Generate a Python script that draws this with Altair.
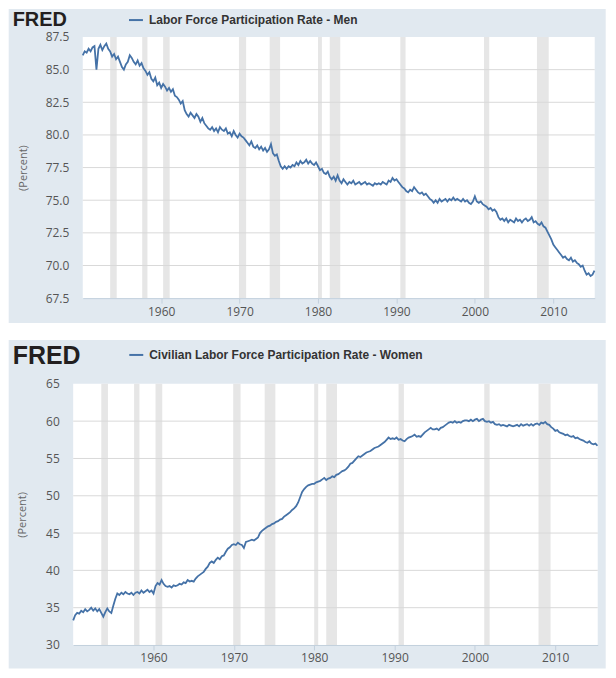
import altair as alt
import pandas as pd

# ---------------- data (quarterly from 1950 Q1) ----------------
MEN = [
    86.1, 86.4, 86.3, 86.6,  # 1950
    86.4, 86.7, 86.8, 85.0,  # 1951
    86.6, 86.9, 86.5, 86.8,  # 1952
    87.0, 86.6, 86.4, 86.0,  # 1953
    86.2, 85.8, 86.0, 85.6,  # 1954
    85.2, 85.0, 85.4, 85.6,  # 1955
    86.1, 85.9, 85.6, 85.4,  # 1956
    85.7, 85.3, 85.5, 85.1,  # 1957
    84.9, 84.6, 84.8, 84.3,  # 1958
    84.1, 84.4, 83.8, 84.0,  # 1959
    83.6, 83.9, 83.7, 83.4,  # 1960
    83.6, 83.3, 83.5, 83.0,  # 1961
    82.9, 82.7, 82.4, 82.6,  # 1962
    81.9, 81.6, 81.4, 81.7,  # 1963
    81.5, 81.3, 81.6, 81.4,  # 1964
    81.0, 81.3, 80.9, 80.7,  # 1965
    80.5, 80.4, 80.6, 80.3,  # 1966
    80.5, 80.2, 80.6, 80.4,  # 1967
    80.3, 80.5, 80.1, 80.2,  # 1968
    79.9, 80.3, 80.0, 79.8,  # 1969
    80.1, 79.9, 79.8, 79.6,  # 1970
    79.4, 79.2, 79.5, 79.1,  # 1971
    79.0, 79.2, 78.9, 79.1,  # 1972
    78.8, 79.0, 78.7, 78.9,  # 1973
    79.3, 78.6, 78.4, 78.5,  # 1974
    78.0, 77.6, 77.4, 77.6,  # 1975
    77.4, 77.6, 77.5, 77.7,  # 1976
    77.6, 77.9, 77.7, 78.0,  # 1977
    77.8, 77.9, 78.1, 77.8,  # 1978
    78.0, 77.8, 77.7, 77.9,  # 1979
    77.6, 77.3, 77.4, 77.1,  # 1980
    77.0, 77.2, 76.8, 76.6,  # 1981
    76.8, 76.5, 76.9, 76.5,  # 1982
    76.3, 76.6, 76.4, 76.2,  # 1983
    76.4, 76.3, 76.5, 76.2,  # 1984
    76.3, 76.4, 76.2, 76.3,  # 1985
    76.4, 76.2, 76.3, 76.2,  # 1986
    76.1, 76.3, 76.2, 76.3,  # 1987
    76.2, 76.4, 76.3, 76.2,  # 1988
    76.5, 76.4, 76.7, 76.5,  # 1989
    76.6, 76.4, 76.2, 76.0,  # 1990
    75.9, 75.7, 75.6, 75.8,  # 1991
    75.7, 76.0, 75.8, 75.6,  # 1992
    75.5, 75.6, 75.4, 75.5,  # 1993
    75.3, 75.1, 75.0, 74.8,  # 1994
    75.0, 74.8, 75.1, 74.9,  # 1995
    75.0, 75.1, 74.9, 75.1,  # 1996
    75.0, 75.2, 75.0, 75.1,  # 1997
    75.0, 74.9, 75.1, 74.9,  # 1998
    75.0, 74.8, 74.7, 74.9,  # 1999
    75.3, 74.9, 74.8, 74.9,  # 2000
    74.7, 74.6, 74.5, 74.3,  # 2001
    74.4, 74.2, 74.3, 74.1,  # 2002
    73.7, 73.5, 73.6, 73.4,  # 2003
    73.6, 73.3, 73.5, 73.4,  # 2004
    73.3, 73.6, 73.4, 73.5,  # 2005
    73.3, 73.5, 73.6, 73.4,  # 2006
    73.5, 73.7, 73.3, 73.4,  # 2007
    73.2, 73.1, 73.3, 73.0,  # 2008
    72.9, 72.6, 72.3, 72.0,  # 2009
    71.6, 71.4, 71.2, 71.0,  # 2010
    70.8, 70.6, 70.7, 70.5,  # 2011
    70.4, 70.6, 70.3, 70.4,  # 2012
    70.2, 70.1, 69.9, 70.0,  # 2013
    69.6, 69.3, 69.4, 69.2,  # 2014
    69.3, 69.6,              # 2015
]

WOMEN = [
    33.3, 34.0, 34.3, 34.2,  # 1950
    34.6, 34.4, 34.8, 34.5,  # 1951
    34.7, 35.0, 34.6, 34.9,  # 1952
    34.5, 34.8, 34.3, 33.8,  # 1953
    34.4, 34.9, 34.5, 34.3,  # 1954
    35.3, 36.2, 36.9, 36.7,  # 1955
    37.0, 36.8, 37.1, 36.9,  # 1956
    36.8, 37.0, 36.7, 37.0,  # 1957
    37.1, 36.9, 37.3, 37.0,  # 1958
    37.2, 37.4, 37.1, 37.3,  # 1959
    36.9, 37.9, 38.3, 38.1,  # 1960
    38.7, 38.2, 37.9, 37.8,  # 1961
    37.9, 37.7, 38.0, 37.9,  # 1962
    38.0, 38.2, 38.1, 38.4,  # 1963
    38.3, 38.7, 38.5, 38.6,  # 1964
    38.5, 38.9, 39.2, 39.4,  # 1965
    39.6, 39.8, 40.2, 40.5,  # 1966
    41.0, 41.2, 41.0, 41.4,  # 1967
    41.7, 41.5, 41.9, 42.0,  # 1968
    42.5, 42.9, 43.1, 43.4,  # 1969
    43.5, 43.4, 43.7, 43.5,  # 1970
    43.4, 43.0, 43.8, 43.9,  # 1971
    44.0, 44.1, 44.0, 44.2,  # 1972
    44.4, 45.0, 45.3, 45.5,  # 1973
    45.7, 45.9, 46.0, 46.2,  # 1974
    46.3, 46.5, 46.6, 46.8,  # 1975
    46.9, 47.2, 47.4, 47.6,  # 1976
    47.8, 48.1, 48.3, 48.6,  # 1977
    49.1, 49.8, 50.5, 50.9,  # 1978
    51.2, 51.4, 51.5, 51.6,  # 1979
    51.6, 51.8, 51.9, 52.0,  # 1980
    52.2, 52.4, 52.1, 52.3,  # 1981
    52.4, 52.6, 52.5, 52.8,  # 1982
    52.9, 53.1, 53.3, 53.4,  # 1983
    53.6, 53.9, 54.3, 54.4,  # 1984
    54.7, 55.0, 55.3, 55.2,  # 1985
    55.4, 55.6, 55.8, 55.9,  # 1986
    56.0, 56.2, 56.4, 56.5,  # 1987
    56.6, 56.8, 57.0, 57.2,  # 1988
    57.5, 57.8, 57.6, 57.7,  # 1989
    57.6, 57.8, 57.5, 57.6,  # 1990
    57.4, 57.3, 57.6, 57.8,  # 1991
    57.9, 58.0, 58.2, 57.9,  # 1992
    58.0, 57.9, 58.2, 58.5,  # 1993
    58.7, 58.9, 59.1, 58.9,  # 1994
    58.9, 59.0, 58.8, 59.1,  # 1995
    59.2, 59.4, 59.6, 59.8,  # 1996
    59.9, 59.8, 60.0, 59.8,  # 1997
    59.9, 59.8, 60.0, 60.1,  # 1998
    60.1, 60.0, 60.2, 60.0,  # 1999
    60.2, 60.3, 60.0, 60.2,  # 2000
    60.3, 60.0, 59.9, 60.0,  # 2001
    59.8, 59.9, 59.6, 59.5,  # 2002
    59.6, 59.4, 59.5, 59.4,  # 2003
    59.3, 59.5, 59.4, 59.3,  # 2004
    59.4, 59.5, 59.3, 59.6,  # 2005
    59.4, 59.5, 59.6, 59.4,  # 2006
    59.6, 59.4, 59.6, 59.7,  # 2007
    59.5, 59.8, 59.7, 59.9,  # 2008
    59.6, 59.5, 59.2, 59.0,  # 2009
    58.7, 58.8, 58.5, 58.4,  # 2010
    58.3, 58.1, 58.2, 58.0,  # 2011
    57.9, 58.0, 57.7, 57.8,  # 2012
    57.6, 57.5, 57.4, 57.2,  # 2013
    57.1, 57.3, 57.0, 56.9,  # 2014
    57.0, 56.7,              # 2015
]

REC_START = ["1953-07-01", "1957-08-01", "1960-04-01", "1969-12-01", "1973-11-01",
             "1980-01-01", "1981-07-01", "1990-07-01", "2001-03-01", "2007-12-01"]
REC_END = ["1954-05-01", "1958-04-01", "1961-02-01", "1970-11-01", "1975-03-01",
           "1980-07-01", "1982-11-01", "1991-03-01", "2001-11-01", "2009-06-01"]

MEN_TICKS = [67.5, 70.0, 72.5, 75.0, 77.5, 80.0, 82.5, 85.0, 87.5]
WOMEN_TICKS = [30, 35, 40, 45, 50, 55, 60, 65]
YEAR_TICKS = [1960, 1970, 1980, 1990, 2000, 2010]

MEN_TITLE = "Labor Force Participation Rate - Men"
WOMEN_TITLE = "Civilian Labor Force Participation Rate - Women"
Y_TITLE = "(Percent)"
LOGO = "FRED"

# ---------------- styling ----------------
FRAME = "#e1e9f0"
LINE = "#4572a7"
BAND = "#e6e6e6"
GRID = "#d9d9d9"
AXIS_LINE = "#c3d0dd"
LABEL = "#555555"
FONT = "Open Sans"


def qdates(n):
    return [f"{1950 + i // 4}-{(i % 4) * 3 + 1:02d}-01" for i in range(n)]


X_DOMAIN = [alt.DateTime(year=1950, month=1, date=1),
            alt.DateTime(year=2015, month=4, date=15)]


def panel(values, ticks, title, fmt, ymin, ymax, x0, x1, H, frame_box,
          y_offset, title_pad, fred_y, fred_size, leg_y, leg_x):
    one = pd.DataFrame({"k": [0]})
    series = pd.DataFrame({"date": qdates(len(values)), "value": values})
    bands = pd.DataFrame({"start": REC_START, "end": REC_END})
    grid = pd.DataFrame({"v": [t for t in ticks if ymin < t < ymax]})

    xscale = alt.Scale(domain=X_DOMAIN, range=[x0, x1], nice=False)
    yscale = alt.Scale(domain=[ymin, ymax], nice=False, zero=False)
    xaxis = alt.Axis(values=[alt.DateTime(year=y, month=1, date=1) for y in YEAR_TICKS],
                     format="%Y", grid=False, domainColor=AXIS_LINE, tickColor=AXIS_LINE,
                     tickSize=5, labelPadding=3, labelFontSize=12, labelColor=LABEL,
                     labelFont=FONT, labelFlush=False, title=None, zindex=1)
    yaxis = alt.Axis(values=ticks, format=fmt, grid=False, domain=False, ticks=False,
                     labelPadding=14, labelFontSize=12, labelColor=LABEL, labelFont=FONT,
                     title=Y_TITLE, titleFont=FONT, titleFontSize=11,
                     titleFontWeight="normal", titleColor="#666666",
                     titlePadding=title_pad, offset=y_offset, zindex=1)

    fl, fr, ft, fb = frame_box
    frame = alt.Chart(one).mark_rect(color=FRAME).encode(
        x=alt.value(fl), x2=alt.value(fr), y=alt.value(ft), y2=alt.value(fb))
    plotbg = alt.Chart(one).mark_rect(color="white").encode(
        x=alt.value(x0), x2=alt.value(x1), y=alt.value(0), y2=alt.value(H))
    rec = alt.Chart(bands).mark_rect(color=BAND).encode(
        x=alt.X("start:T", scale=xscale, axis=xaxis),
        x2="end:T",
        y=alt.value(0), y2=alt.value(H))
    gl = alt.Chart(grid).mark_rule(color=GRID, strokeWidth=1).encode(
        y=alt.Y("v:Q", scale=yscale, axis=yaxis),
        x=alt.value(x0), x2=alt.value(x1))
    line = alt.Chart(series).mark_line(color=LINE, strokeWidth=1.8).encode(
        x=alt.X("date:T", scale=xscale, axis=xaxis),
        y=alt.Y("value:Q", scale=yscale, axis=yaxis))
    fred = alt.Chart(one).mark_text(text=LOGO, font="Liberation Sans", fontWeight="bold",
                                    fontSize=fred_size, color="#231f20", align="left",
                                    baseline="middle").encode(
        x=alt.value(-70.3), y=alt.value(fred_y))
    leg_line = alt.Chart(one).mark_rule(color=LINE, strokeWidth=2).encode(
        x=alt.value(leg_x), x2=alt.value(leg_x + 14), y=alt.value(leg_y))
    leg_text = alt.Chart(one).mark_text(text=title, font="Liberation Sans", fontWeight="bold",
                                        fontSize=12, color="#333333", align="left",
                                        baseline="middle").encode(
        x=alt.value(leg_x + 20), y=alt.value(leg_y))

    return alt.layer(frame, plotbg, rec, gl, line, fred, leg_line, leg_text).properties(
        width=514, height=H)


men = panel(MEN, MEN_TICKS, MEN_TITLE, ".1f", 67.5, 87.5,
            0, 513.7, 262, (-74.3, 524.7, -28, 287),
            0, 17, -17, 20, -17, 46.4)
women = panel(WOMEN, WOMEN_TICKS, WOMEN_TITLE, "d", 30, 65,
              -9.6, 516.7, 262, (-74.3, 524.7, -44, 285.6),
              9.6, 18, -28, 25, -29, 46.7)

chart = alt.vconcat(men, women, spacing=17).properties(
    padding=0, background="white"
).configure_view(strokeOpacity=0)

chart.save("out.html", embed_options={"renderer": "svg", "actions": False})
